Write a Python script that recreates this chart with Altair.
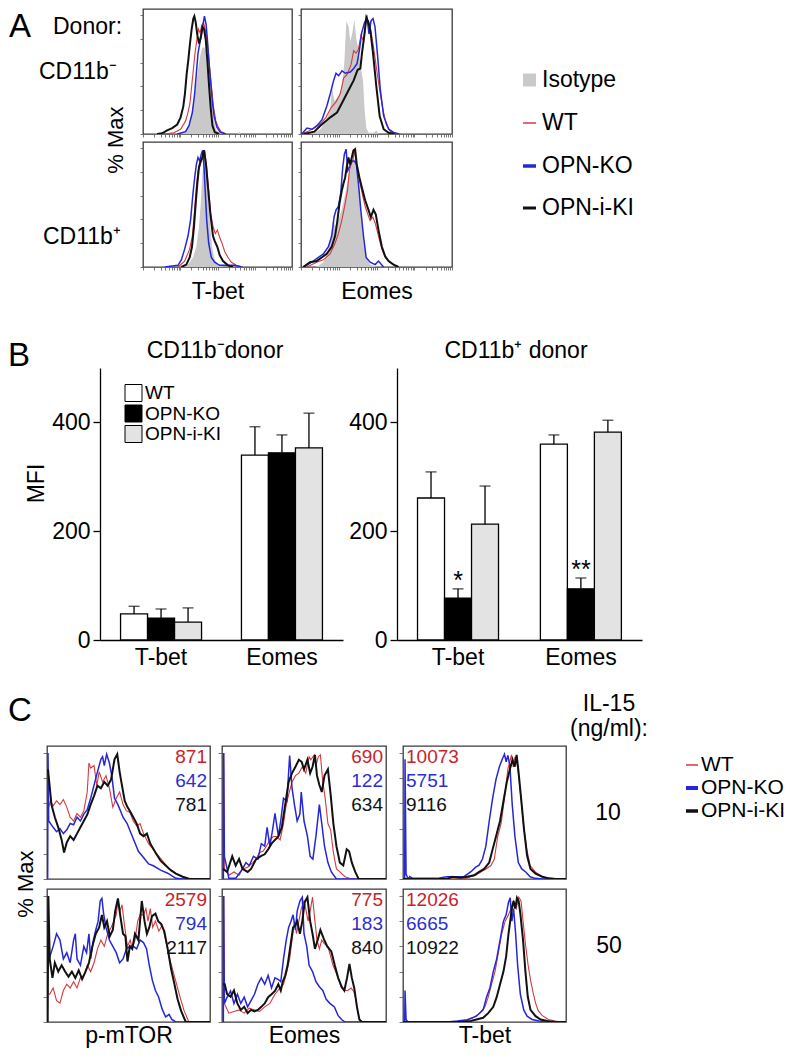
import altair as alt
import pandas as pd

FONT = "Liberation Sans"
RED, BLUE, BLACK, ISO = "#d33a3f", "#2626d9", "#111111", "#c9c9c9"
NUM_COLORS = ["#c8232b", "#2b2fd2", "#111111"]

# ---------------- Panel A: flow histograms (x = channel, y = % of max) ----------------
A1_ISO = [(112,0),(127,3),(137,8),(145,18),(152,29),(158,41),(164,54),(170,65),(176,72),(182,73),(188,70),(194,61),(200,46),(205,29),(210,15),(217,4),(227,1),(242,0),(283,0),(287,2),(291,0)]
A1_WT = [(62,0),(92,1),(112,4),(127,11),(134,18),(140,26),(145,40),(150,54),(155,68),(160,78),(165,88),(170,85),(175,91),(180,94),(185,88),(190,81),(195,68),(200,51),(205,37),(210,23),(217,11),(224,6),(232,2),(247,0)]
A1_KO = [(102,0),(127,2),(137,7),(147,18),(154,34),(159,51),(164,68),(169,76),(174,83),(179,92),(183,99),(188,92),(192,79),(197,59),(202,43),(207,26),(212,15),(220,6),(230,1.5),(247,0)]
A1_KI = [(42,0),(57,0.6),(72,3),(87,5),(102,8),(112,14),(120,23),(125,34),(130,50),(135,62),(140,76),(145,88),(150,97),(153,99),(157,94),(162,83),(167,76),(172,81),(177,90),(182,88),(187,79),(192,61),(197,40),(202,21),(207,7),(214,1.5),(227,0)]

A2_ISO = [(8,0),(38,1),(58,4),(73,10),(88,20),(93,40),(100,28),(113,31),(123,40),(130,60),(136,95),(143,90),(148,78),(154,85),(160,96),(166,80),(173,70),(180,55),(186,45),(191,20),(196,5),(203,1),(218,1),(226,3),(233,0)]
A2_WT = [(0,0),(20,2),(40,5),(60,9),(75,14),(90,22),(105,27),(118,34),(128,47),(138,50),(150,58),(158,70),(165,68),(172,71),(180,83),(188,78),(196,96),(203,94),(210,86),(217,74),(226,56),(236,37),(246,20),(256,8),(268,2),(290,0)]
A2_KO = [(2,0),(18,5),(33,4),(48,7),(63,12),(78,24),(88,34),(98,45),(105,51),(113,49),(123,53),(133,51),(148,52),(158,55),(168,59),(175,70),(182,85),(190,93),(198,98),(204,84),(210,95),(216,97),(222,90),(230,65),(238,37),(248,15),(263,4),(280,1),(295,0)]
A2_KI = [(8,0),(40,2),(58,7),(88,14),(108,18),(123,26),(143,37),(158,45),(170,54),(178,55),(183,68),(190,83),(196,98),(202,94),(208,87),(216,68),(226,40),(236,15),(248,4),(263,1),(280,0)]

A3_ISO = [(115,0),(135,2),(150,8),(160,17),(168,34),(173,53),(177,73),(181,86),(185,96),(190,84),(195,62),(201,37),(207,17),(215,6),(227,1.5),(245,0)]
A3_WT = [(105,0),(125,5),(140,15),(148,26),(155,48),(160,67),(165,81),(170,84),(175,89),(180,92),(185,98),(191,84),(197,64),(203,45),(210,34),(217,28),(223,31),(230,25),(237,20),(245,13),(255,8),(265,4),(280,1.4),(300,0)]
A3_KO = [(65,0),(105,1.4),(115,6),(125,15),(135,26),(143,40),(150,62),(155,75),(160,86),(165,92),(170,89),(175,95),(179,98),(183,84),(187,62),(191,40),(197,20),(205,8),(215,4),(230,1.4),(255,1.4),(275,1.4),(295,0)]
A3_KI = [(115,0),(130,2),(140,8),(147,17),(153,34),(158,53),(163,70),(168,84),(173,89),(178,92),(183,98),(189,86),(195,67),(202,45),(210,26),(215,22),(223,17),(230,10),(240,5),(255,1.4),(270,0)]

A4_ISO = [(47,0),(67,4),(82,15),(92,31),(97,42),(102,34),(112,40),(122,48),(132,61),(142,75),(149,83),(155,89),(159,92),(165,80),(172,70),(179,45),(187,20),(195,8),(207,2),(227,0)]
A4_WT = [(17,0),(47,4),(67,6),(87,11),(102,20),(112,28),(122,39),(132,53),(139,64),(145,81),(150,86),(155,89),(160,98),(167,84),(175,73),(183,62),(192,51),(199,45),(207,39),(215,42),(222,37),(232,26),(242,15),(252,8),(267,4),(287,0)]
A4_KO = [(7,0),(32,4),(52,8),(67,11),(82,17),(92,26),(99,42),(105,48),(112,51),(119,62),(125,84),(130,95),(135,99),(140,81),(145,84),(152,89),(159,89),(165,87),(172,70),(179,48),(187,26),(195,8),(207,4),(222,2),(232,5),(247,0)]
A4_KI = [(7,0),(27,4),(47,5),(62,8),(77,11),(92,17),(102,26),(109,39),(115,53),(122,64),(127,70),(132,75),(137,84),(142,92),(147,86),(152,92),(157,98),(162,99),(167,86),(175,75),(182,67),(192,56),(202,48),(209,42),(217,48),(224,44),(232,31),(242,17),(252,9),(262,5),(277,2),(292,0)]

# ---------------- Panel B: MFI bars ----------------
MARKERS = ["T-bet", "Eomes"]
GENOS = ["WT", "OPN-KO", "OPN-i-KI"]
BAR_FILLS = ["white", "black", "#e3e3e3"]
MFI_NEG = [[48, 40, 33], [340, 344, 353]]
SEM_NEG = [[14, 17, 26], [52, 33, 64]]
MFI_POS = [[261, 77, 213], [360, 94, 382]]
SEM_POS = [[48, 17, 70], [17, 20, 22]]
STAR_NEG = [["", "", ""], ["", "", ""]]
STAR_POS = [["", "*", ""], ["", "**", ""]]

# ---------------- Panel C: flow histograms ----------------
C1_WT = [(3,55),(10,62),(18,58),(28,62),(38,59),(48,63),(58,57),(68,49),(78,46),(88,52),(98,49),(108,54),(118,69),(123,92),(128,88),(138,90),(146,74),(153,85),(163,77),(173,82),(183,72),(193,57),(203,64),(213,69),(223,59),(233,54),(243,53),(253,46),(263,42),(273,44),(283,36),(298,28),(313,23),(328,18),(343,13),(358,8),(378,4.3),(398,1.8),(418,0),(478,0)]
C1_KO = [(2,0),(3,100),(5,46),(18,41),(28,37.5),(38,40),(48,36),(58,39),(68,44),(78,43),(88,49),(98,46),(108,51.5),(118,55),(128,64),(138,74.5),(148,85),(158,95),(163,97),(168,90),(175,99),(183,92),(190,82),(198,64),(208,59),(223,49),(235,44),(253,32),(268,22),(283,17),(298,12),(312,10.5),(333,7),(354,4.6),(378,0.5),(398,0),(478,0)]
C1_KI = [(3,87),(13,59),(23,49),(33,41),(43,31),(50,21),(58,29),(68,34),(78,31),(88,36),(98,41),(108,46),(118,51),(128,59),(138,66),(148,74),(158,72),(168,77),(178,74),(188,79),(198,95),(206,99),(213,85),(218,77),(228,62),(236,57),(243,54),(253,49),(263,44),(273,36),(283,34),(293,36),(303,28),(318,21),(333,14.5),(348,10.7),(363,7),(378,4.3),(398,1.8),(418,0),(478,0)]

C2_WT = [(4,0),(5,100),(7,8),(20,3),(35,5.6),(50,3),(60,8),(75,9.4),(90,13),(100,15.8),(110,21),(120,22),(130,26),(140,31),(150,33.7),(160,33.7),(170,31),(180,44),(188,59),(195,67),(205,77),(215,82),(225,84),(235,89),(245,84),(255,97),(260,94.6),(270,98.5),(275,90),(282,97),(288,98.5),(295,77),(302,64),(310,44),(318,39),(326,21),(335,8),(345,5.6),(360,1.8),(380,0),(480,0)]
C2_KO = [(4,0),(5,100),(7,18),(15,8),(20,0.5),(40,0.5),(60,8),(70,13),(80,10.7),(92,18),(105,15.8),(115,28),(125,26),(132,41),(140,26),(148,39),(155,52),(165,34),(172,46.4),(180,64),(190,61.7),(198,98),(205,72),(212,59),(220,46),(228,51.5),(232,69),(240,46),(250,34),(258,18),(266,15.8),(275,34),(285,59),(292,44),(300,26),(310,13),(320,5.6),(335,0),(480,0)]
C2_KI = [(3,8),(15,5.6),(30,18),(40,10.7),(50,15.8),(60,8),(75,5.6),(85,8),(100,15.8),(115,18.4),(125,19.6),(135,23.5),(145,28),(155,31),(165,33.7),(175,41),(185,59),(195,77),(205,84),(215,89),(225,94.6),(233,93),(240,87),(250,94.6),(258,84),(265,89),(272,98.5),(278,82),(285,74.5),(292,69),(300,82),(310,87),(318,67),(326,44),(335,26),(345,13),(355,10.7),(365,23.5),(372,22),(380,13),(390,5.6),(400,0),(480,0)]

C3_WT = [(0,0),(180,0),(200,1.8),(215,3),(230,5.6),(245,8),(260,10.7),(270,15.8),(280,33.7),(290,44),(300,64),(310,87),(321,98.5),(326,89),(331,97),(339,89),(346,72),(356,44),(366,23.5),(376,10.7),(391,5.6),(411,1.8),(431,0.5),(451,0),(482,0)]
C3_KO = [(5,0),(6,95),(9,4),(15,0),(20,2),(28,0.5),(100,0.5),(130,1.8),(180,1.8),(200,5.6),(215,9.4),(225,11),(235,15.8),(245,26),(255,46),(265,64),(275,79),(285,89),(295,96),(300,99),(305,93),(310,98),(316,90),(323,59),(331,33.7),(341,13),(351,8),(363,5.6),(376,1.8),(391,0.5),(411,0),(482,0)]
C3_KI = [(0,0),(130,0),(145,1.8),(170,1),(190,1.8),(210,3),(225,5.6),(240,8),(255,13),(265,23.5),(275,33.7),(287,46),(297,61.7),(307,77),(317,88),(324,94.6),(330,89),(336,98.5),(342,84),(350,61.7),(358,39),(367,18.4),(377,8),(392,4.3),(412,1.8),(432,0.5),(452,0),(482,0)]

C4_WT = [(3,22),(8,22),(18,27),(28,17),(38,15),(48,25),(58,30),(68,27),(78,32),(88,27),(98,35),(108,37),(118,45),(128,40),(138,47),(148,58),(158,65),(168,60),(178,70),(188,75),(196,80),(203,85),(208,96),(214,88),(220,93),(228,75),(236,60),(244,65),(250,58),(258,65),(266,80),(273,85),(283,85),(290,90),(296,80),(303,90),(310,75),(318,80),(328,72),(338,77),(348,65),(358,52),(368,42),(378,32),(390,20),(402,9),(416,0),(478,0)]
C4_KO = [(3,45),(6,50),(18,60),(28,70),(38,65),(48,50),(58,55),(68,47),(78,65),(83,70),(88,50),(98,45),(108,60),(116,55),(123,70),(128,50),(136,65),(143,73),(150,80),(156,96),(161,98),(166,86),(173,75),(183,65),(193,60),(203,55),(213,47),(223,50),(233,58),(243,60),(253,60),(263,58),(273,65),(283,63),(292,58),(300,45),(309,33),(318,25),(327,20),(338,10),(348,4),(358,6),(366,2),(378,0),(478,0)]
C4_KI = [(2,0),(4,100),(8,50),(16,35),(23,47),(33,40),(43,45),(53,40),(63,36),(73,40),(83,35),(93,41),(103,34),(113,40),(123,47),(133,60),(143,70),(153,75),(161,85),(168,75),(176,80),(184,68),(193,73),(200,88),(208,98),(214,86),(223,70),(230,68),(236,48),(243,60),(250,58),(258,70),(268,65),(278,96),(286,80),(293,70),(300,75),(308,84),(318,86),(326,80),(334,78),(344,72),(354,58),(364,42),(373,31),(383,18),(393,9),(407,0),(478,0)]

C5_WT = [(4,0),(5,100),(7,14.7),(20,7),(35,8.4),(50,9.6),(65,7),(80,11),(95,9.6),(110,8.4),(125,12),(140,14.7),(155,22),(170,27),(180,30),(190,40),(198,50),(205,65),(212,80),(218,70),(225,80),(232,90),(240,96),(245,90),(252,80),(258,88),(265,99),(272,80),(278,65),(285,58),(292,65),(300,62),(310,60),(325,45),(340,35),(350,27),(358,25),(368,25),(378,27),(386,24),(392,18),(398,7),(405,0),(480,0)]
C5_KO = [(4,0),(5,100),(7,14.7),(15,19.7),(25,24.6),(35,14.7),(45,22),(55,14.7),(65,19.7),(75,12),(85,17),(95,22),(105,30),(115,35),(125,30),(135,37),(145,27),(155,35),(165,33.7),(172,32),(180,50),(188,65),(195,75),(202,80),(208,85),(215,73),(220,88),(228,96),(235,99),(240,70),(248,60),(255,45),(265,40),(275,32),(285,28),(295,25),(305,18),(315,15),(329,12),(340,5),(350,2),(360,0),(480,0)]
C5_KI = [(3,30),(8,30),(15,22),(25,20),(35,25),(45,14.7),(55,9.6),(65,12),(75,7),(85,9.6),(95,8.4),(105,9.6),(115,12),(125,14.7),(135,19.7),(145,22),(155,24.6),(165,30),(172,25),(178,32),(185,37),(192,45),(200,60),(208,75),(215,77),(220,80),(228,70),(235,80),(242,95),(250,99),(258,80),(265,70),(272,58),(280,65),(288,73),(298,66),(308,60),(320,56),(330,45),(340,35),(350,28),(358,25),(366,35),(373,46),(380,35),(387,27),(395,12),(402,2),(410,0),(480,0)]

C6_WT = [(0,0),(150,0),(185,1),(207,3.3),(227,7),(242,12),(252,19.7),(262,30),(272,40),(282,55),(292,70),(302,80),(312,85),(319,90),(327,96),(335,90),(342,99),(349,96),(355,80),(362,62),(370,45),(378,32),(385,23),(392,15),(400,9),(412,5),(430,2),(450,0.8),(470,0),(482,0)]
C6_KO = [(5,0),(6,25),(9,2),(14,0),(130,0),(160,0.8),(190,1.8),(217,4.6),(237,9.6),(247,19.7),(257,27),(267,40),(277,50),(287,65),(297,80),(305,85),(312,95),(317,98.5),(322,80),(327,90),(333,70),(339,45),(347,22),(357,9.6),(367,4.6),(382,2),(402,0.8),(420,0),(482,0)]
C6_KI = [(0,0),(170,0),(200,0.8),(217,2),(237,3.3),(252,7),(267,12),(277,19.7),(287,30),(297,40),(305,52),(312,70),(317,80),(322,90),(327,96),(332,90),(337,98.5),(342,96),(347,86),(355,65),(362,40),(369,20),(377,9.6),(392,4.6),(407,2),(427,0.8),(450,0),(482,0)]

NUMS_10 = [["871", "642", "781"], ["690", "122", "634"], ["10073", "5751", "9116"]]
NUMS_50 = [["2579", "794", "2117"], ["775", "183", "840"], ["12026", "6665", "10922"]]

LEGEND_A = ["Isotype", "WT", "OPN-KO", "OPN-i-KI"]
LEGEND_C = ["WT", "OPN-KO", "OPN-i-KI"]

# ---------------- helpers ----------------
STYLE = {"WT": (RED, 1.1), "KO": (BLUE, 1.5), "KI": (BLACK, 2.0)}
LOG_MINOR = [0, 0.301, 0.477, 0.602, 0.699, 0.778, 0.845, 0.903, 0.954]
dummy = pd.DataFrame({"k": [0]})


def txt(s, x, y, size=23, align="left", angle=0, color="black"):
    kw = dict(text=s, fontSize=size, align=align, baseline="middle", color=color)
    if angle:
        kw["angle"] = angle
    return alt.Chart(dummy).mark_text(**kw).encode(x=alt.value(x), y=alt.value(y))


def hrule(x1, x2, y, color, width):
    return alt.Chart(dummy).mark_rule(color=color, strokeWidth=width).encode(
        x=alt.value(x1), x2=alt.value(x2), y=alt.value(y))


def invisible():
    return alt.Chart(dummy).mark_point(opacity=0, size=1).encode(x=alt.value(1), y=alt.value(1))


def blank(w, h):
    return invisible().properties(width=w, height=h)


def cell(w, h, layers):
    return alt.layer(invisible(), *layers).properties(width=w, height=h)


def grid(rows):
    flat = [c for r in rows for c in r]
    return alt.concat(*flat, columns=len(rows[0]), spacing=0, bounds="flush", align="each")


def hist(series, w, h, xdom, ydom, xaxis, yaxis, extra=()):
    xs = alt.Scale(domain=[0, xdom], nice=False, zero=False)
    ys = alt.Scale(domain=[0, ydom], nice=False)
    layers = []
    for kind, pts in series:
        df = pd.DataFrame(pts, columns=["x", "y"])
        if kind == "iso":
            m = alt.Chart(df).mark_area(color=ISO, clip=True)
        else:
            col, sw = STYLE[kind]
            m = alt.Chart(df).mark_line(color=col, strokeWidth=sw, clip=True)
        layers.append(m.encode(x=alt.X("x:Q", scale=xs, axis=xaxis),
                               y=alt.Y("y:Q", scale=ys, axis=yaxis)))
    layers.extend(extra)
    return alt.layer(*layers).properties(
        width=w, height=h, view=alt.ViewBackground(stroke="#3a3a3a", strokeWidth=1.3))


def a_xaxis(xdom, title=None):
    dec = xdom / 4
    vals = [round(d * dec + m * dec, 1) for d in range(4) for m in LOG_MINOR] + [xdom]
    kw = dict(values=vals, labels=False, domain=False, grid=False, ticks=True,
              tickSize=3, tickColor="#555", tickWidth=0.8)
    if title:
        kw.update(title=title, titleFontSize=23, titleFontWeight="normal",
                  titlePadding=10, titleColor="black")
    else:
        kw["title"] = None
    return alt.Axis(**kw)


def y_ticks(size):
    return alt.Axis(values=[0, 20, 40, 60, 80, 100], labels=False, domain=False, grid=False,
                    tickSize=size, tickColor="#555", tickWidth=0.8, title=None)


def c_xaxis(title=None):
    if title is None:
        return None
    return alt.Axis(labels=False, ticks=False, domain=False, grid=False, title=title,
                    titleFontSize=23, titleFontWeight="normal", titlePadding=2, titleColor="black")


def numbers(vals, w, right):
    out = []
    for i, (v, c) in enumerate(zip(vals, NUM_COLORS)):
        if right:
            out.append(txt(v, w - 3, 11 + 24 * i, size=19, align="right", color=c))
        else:
            out.append(txt(v, 3, 11 + 24 * i, size=19, align="left", color=c))
    return out


def bars(mfi, sem, stars, w, ytitle, pin, pout, legend=False):
    rows = []
    for i, mk in enumerate(MARKERS):
        for j, g in enumerate(GENOS):
            rows.append(dict(marker=mk, geno=g, mfi=mfi[i][j], upper=mfi[i][j] + sem[i][j],
                             star=stars[i][j]))
    df = pd.DataFrame(rows)
    x = alt.X("marker:N", scale=alt.Scale(domain=MARKERS, paddingInner=pin, paddingOuter=pout),
              axis=alt.Axis(title=None, labelAngle=0, labelFontSize=23, labelColor="black",
                            ticks=False, labelPadding=6, domainColor="black", domainWidth=1.3,
                            grid=False))
    xo = alt.XOffset("geno:N", scale=alt.Scale(domain=GENOS, paddingInner=0, paddingOuter=0))
    ykw = dict(values=[0, 200, 400], tickSize=7, tickColor="black", tickWidth=1.3,
               domainColor="black", domainWidth=1.3, labelFontSize=23, labelColor="black",
               labelPadding=3, grid=False)
    if ytitle:
        ykw.update(title=ytitle, titleFontSize=23, titleFontWeight="normal", titleColor="black",
                   titleX=-64, titleY=115, titleAngle=270, titleAlign="center",
                   titleBaseline="middle")
    else:
        ykw["title"] = None
    yaxis = alt.Axis(**ykw)
    ys = alt.Scale(domain=[0, 500], nice=False)
    fill = alt.Fill("geno:N", scale=alt.Scale(domain=GENOS, range=BAR_FILLS), legend=None)
    base = alt.Chart(df)
    b = base.mark_bar(stroke="black", strokeWidth=1.3).encode(
        x=x, xOffset=xo, y=alt.Y("mfi:Q", scale=ys, axis=yaxis), fill=fill)
    r = base.mark_rule(color="black", strokeWidth=1.3).encode(
        x=x, xOffset=xo, y=alt.Y("mfi:Q", scale=ys, axis=yaxis), y2="upper:Q")
    t = base.mark_tick(color="black", thickness=1.3, size=11, orient="horizontal").encode(
        x=x, xOffset=xo, y=alt.Y("upper:Q", scale=ys, axis=yaxis))
    s = base.mark_text(fontSize=25, dy=-8, baseline="middle", color="black").encode(
        x=x, xOffset=xo, y=alt.Y("upper:Q", scale=ys, axis=yaxis), text="star:N")
    layers = [b, r, t, s]
    if legend:
        for j, (g, f) in enumerate(zip(GENOS, BAR_FILLS)):
            yy = 25 + 20.5 * j
            layers.append(alt.Chart(dummy).mark_square(
                size=289, fill=f, stroke="black", strokeWidth=1, opacity=1).encode(
                x=alt.value(33.5), y=alt.value(yy)))
            layers.append(txt(g, 45, yy, size=19))
    return alt.layer(*layers).properties(width=w, height=272)


# ---------------- block A ----------------
hA1 = hist([("iso", A1_ISO), ("WT", A1_WT), ("KO", A1_KO), ("KI", A1_KI)], 149, 125, 444, 105,
           a_xaxis(444), y_ticks(3))
hA2 = hist([("iso", A2_ISO), ("WT", A2_WT), ("KO", A2_KO), ("KI", A2_KI)], 151, 125, 453, 105,
           a_xaxis(453), y_ticks(3))
hA3 = hist([("iso", A3_ISO), ("WT", A3_WT), ("KO", A3_KO), ("KI", A3_KI)], 149, 125, 447, 105,
           a_xaxis(447, "T-bet"), y_ticks(3))
hA4 = hist([("iso", A4_ISO), ("WT", A4_WT), ("KO", A4_KO), ("KI", A4_KI)], 151, 125, 452, 105,
           a_xaxis(452, "Eomes"), y_ticks(3))

textA = cell(135, 125, [
    txt("A", 1, 18, size=33),
    txt("Donor:", 45, 18),
    txt("CD11b\u207b", 31, 63),
    txt("% Max", 108, 131, size=22, align="center", angle=270),
    txt("CD11b\u207a", 35, 228),
])

legA_layers = [
    alt.Chart(dummy).mark_square(size=169, color=ISO, opacity=1).encode(
        x=alt.value(77.5), y=alt.value(71)),
    hrule(71, 84, 114, RED, 1.5),
    hrule(71, 84, 157, BLUE, 3.5),
    hrule(71, 84, 199, BLACK, 3),
]
for lab, yy in zip(LEGEND_A, [71, 114, 157, 199]):
    legA_layers.append(txt(lab, 90, yy))
legA = cell(329, 125, legA_layers)

blockA = grid([
    [textA, hA1, blank(9, 125), hA2, legA],
    [blank(1, 8) for _ in range(5)],
    [blank(1, 125), hA3, blank(1, 125), hA4, blank(1, 125)],
    [blank(1, 44) for _ in range(5)],
])

# ---------------- block B ----------------
bar1 = bars(MFI_NEG, SEM_NEG, STAR_NEG, 243, "MFI", 0.33, 0.17, legend=True)
bar2 = bars(MFI_POS, SEM_POS, STAR_POS, 245, None, 0.34, 0.167)

blockB = grid([
    [cell(92, 57, [txt("B", 0, 44.5, size=33)]),
     cell(243, 57, [txt("CD11b\u207bdonor", 115, 40, align="center")]),
     blank(1, 57),
     cell(245, 57, [txt("CD11b\u207a donor", 119, 40, align="center")])],
    [blank(92, 272), bar1, blank(54, 272), bar2],
    [blank(1, 40) for _ in range(4)],
])

# ---------------- block C ----------------
CH = 133
c1 = hist([("WT", C1_WT), ("KO", C1_KO), ("KI", C1_KI)], 163, CH, 478, 105.5, c_xaxis(), y_ticks(4),
          numbers(NUMS_10[0], 163, True))
c2 = hist([("WT", C2_WT), ("KO", C2_KO), ("KI", C2_KI)], 164, CH, 480, 105.5, c_xaxis(), y_ticks(4),
          numbers(NUMS_10[1], 164, True))
c3 = hist([("WT", C3_WT), ("KO", C3_KO), ("KI", C3_KI)], 163, CH, 482, 105.5, c_xaxis(), y_ticks(4),
          numbers(NUMS_10[2], 163, False))
c4 = hist([("WT", C4_WT), ("KO", C4_KO), ("KI", C4_KI)], 163, CH, 478, 105.5, c_xaxis("p-mTOR"),
          y_ticks(4), numbers(NUMS_50[0], 163, True))
c5 = hist([("WT", C5_WT), ("KO", C5_KO), ("KI", C5_KI)], 164, CH, 480, 105.5, c_xaxis("Eomes"),
          y_ticks(4), numbers(NUMS_50[1], 164, True))
c6 = hist([("WT", C6_WT), ("KO", C6_KO), ("KI", C6_KI)], 163, CH, 482, 105.5, c_xaxis("T-bet"),
          y_ticks(4), numbers(NUMS_50[2], 163, False))

spC = cell(39, CH, [txt("% Max", 18, 138, size=22, align="center", angle=270)])
legC_layers = [txt("10", 42, 67, align="center"),
               hrule(120, 132, 19, RED, 1.5), hrule(120, 132, 42, BLUE, 4),
               hrule(120, 132, 65, BLACK, 3.5)]
for lab, yy in zip(LEGEND_C, [19, 42, 65]):
    legC_layers.append(txt(lab, 135, yy, size=21))
legC = cell(217, CH, legC_layers)
spR2 = cell(217, CH, [txt("50", 43, 57, align="center")])

blockC = grid([
    [cell(39, 66, [txt("C", 0, 31, size=33)]), blank(1, 66), blank(1, 66), blank(1, 66),
     blank(1, 66), blank(1, 66),
     cell(217, 66, [txt("IL-15", 43, 24, align="center"), txt("(ng/ml):", 43, 49, align="center")])],
    [spC, c1, blank(12, CH), c2, blank(17, CH), c3, legC],
    [blank(1, 10) for _ in range(7)],
    [blank(1, CH), c4, blank(1, CH), c5, blank(1, CH), c6, spR2],
    [blank(1, 24) for _ in range(7)],
])

chart = alt.vconcat(blockA, blockB, blockC, spacing=0, padding=0).configure(
    font=FONT).configure_view(strokeWidth=0)

chart.save("out.html", embed_options={"renderer": "svg", "actions": False})
